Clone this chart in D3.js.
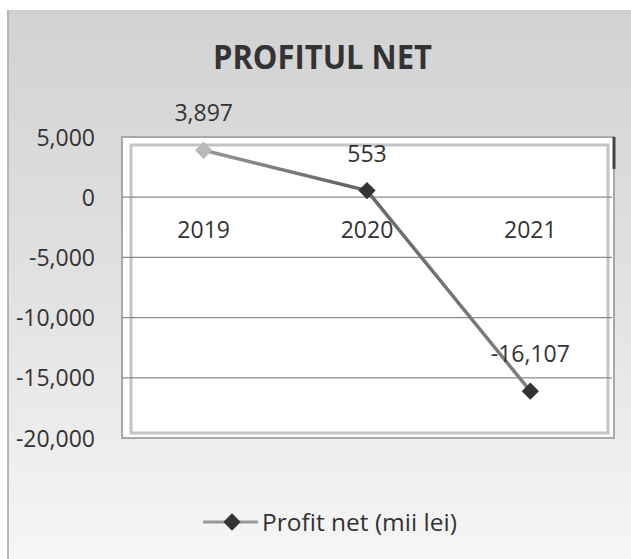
<!DOCTYPE html>
<html>
<head>
<meta charset="utf-8">
<script src="https://cdn.jsdelivr.net/npm/d3@7"></script>
<style>
  body { margin: 0; background: #fff; }
  text { font-family: "Open Sans", Lato, sans-serif; }
</style>
</head>
<body>
<script>
const ani = ["2019", "2020", "2021"];
const profit = [3897, 553, -16107];
const etichete = ["3,897", "553", "-16,107"];
const yTicks = [5000, 0, -5000, -10000, -15000, -20000];

const latime = 631, inaltime = 559;
const svg = d3.select("body").append("svg")
  .attr("width", latime).attr("height", inaltime);

const defs = svg.append("defs");
const fundal = defs.append("linearGradient").attr("id", "fundal")
  .attr("x1", 0).attr("y1", 0).attr("x2", 0).attr("y2", 1);
fundal.append("stop").attr("offset", "0%").attr("stop-color", "#d2d2d2");
fundal.append("stop").attr("offset", "55%").attr("stop-color", "#e3e3e3");
fundal.append("stop").attr("offset", "100%").attr("stop-color", "#f6f6f6");

// panoul graficului
svg.append("rect")
  .attr("x", 8).attr("y", 10).attr("width", latime - 8).attr("height", inaltime - 10)
  .attr("fill", "url(#fundal)");
svg.append("line")
  .attr("x1", 8).attr("x2", 8).attr("y1", 10).attr("y2", inaltime)
  .attr("stroke", "#b5b5b5").attr("stroke-width", 2);

// titlu
svg.append("text")
  .attr("x", 213).attr("y", 69)
  .attr("textLength", 219).attr("lengthAdjust", "spacingAndGlyphs")
  .style("font-size", "34px").style("font-weight", "bold")
  .attr("fill", "#333")
  .text("PROFITUL NET");

const stanga = 122, dreapta = 612, sus = 137, jos = 438;

const x = d3.scaleBand().domain(ani).range([stanga, dreapta]);
const y = d3.scaleLinear().domain([-20000, 5000]).range([jos, sus]);

// zona de plotare (rama cu relief)
svg.append("rect")
  .attr("x", stanga).attr("y", sus)
  .attr("width", dreapta - stanga + 2).attr("height", jos - sus)
  .attr("fill", "#fff")
  .attr("stroke", "#a8a8a8").attr("stroke-width", 2);
svg.append("rect")
  .attr("x", stanga + 9).attr("y", sus + 8)
  .attr("width", dreapta - stanga - 13).attr("height", jos - sus - 13)
  .attr("fill", "none")
  .attr("stroke", "#c4c4c4").attr("stroke-width", 3);
svg.append("line")
  .attr("x1", dreapta + 2).attr("x2", dreapta + 2)
  .attr("y1", sus).attr("y2", sus + 32)
  .attr("stroke", "#444").attr("stroke-width", 3);

// linii de grila
svg.append("g").selectAll("line")
  .data(yTicks.slice(1, -1))
  .join("line")
  .attr("x1", stanga).attr("x2", dreapta)
  .attr("y1", d => y(d)).attr("y2", d => y(d))
  .attr("stroke", "#8a8a8a").attr("stroke-width", 1.2);

// axa Y
const axaY = svg.append("g")
  .attr("transform", "translate(98,0)")
  .call(d3.axisLeft(y).tickValues(yTicks).tickSize(0)
    .tickFormat(d => d3.format(",")(d).replace("\u2212", "-")));
axaY.select(".domain").remove();
axaY.selectAll("text")
  .style("font-size", "23px")
  .attr("fill", "#333")
  .attr("dy", "0.35em");

// etichete categorii (langa axa zero)
svg.append("g").selectAll("text")
  .data(ani)
  .join("text")
  .attr("x", d => x(d) + x.bandwidth() / 2)
  .attr("y", y(0) + 41)
  .attr("text-anchor", "middle")
  .style("font-size", "23px")
  .attr("fill", "#333")
  .text(d => d);

// linia
const puncte = ani.map((a, i) => ({ an: a, v: profit[i], et: etichete[i] }));
const linie = d3.line()
  .x(d => x(d.an) + x.bandwidth() / 2)
  .y(d => y(d.v));

const grad = defs.append("linearGradient").attr("id", "linieGrad")
  .attr("gradientUnits", "userSpaceOnUse")
  .attr("x1", x("2019")).attr("y1", 0).attr("x2", x("2021") + x.bandwidth()).attr("y2", 0);
grad.append("stop").attr("offset", "0%").attr("stop-color", "#b4b4b4");
grad.append("stop").attr("offset", "45%").attr("stop-color", "#666");
grad.append("stop").attr("offset", "100%").attr("stop-color", "#8a8a8a");

svg.append("path")
  .datum(puncte)
  .attr("d", linie)
  .attr("fill", "none")
  .attr("stroke", "url(#linieGrad)")
  .attr("stroke-width", 3.5);

const romb = d3.symbol().type(d3.symbolDiamond2).size(190);
svg.append("g").selectAll("path")
  .data(puncte)
  .join("path")
  .attr("transform", d => `translate(${x(d.an) + x.bandwidth() / 2},${y(d.v)})`)
  .attr("d", romb)
  .attr("fill", (d, i) => i === 0 ? "#b8b8b8" : "#333");

// etichete de date
svg.append("g").selectAll("text")
  .data(puncte)
  .join("text")
  .attr("x", d => x(d.an) + x.bandwidth() / 2)
  .attr("y", d => y(d.v) - 29)
  .attr("text-anchor", "middle")
  .style("font-size", "23px")
  .attr("fill", "#333")
  .text(d => d.et);

// legenda
const leg = svg.append("g").attr("transform", "translate(203,522)");
leg.append("line").attr("x1", 0).attr("x2", 55)
  .attr("stroke", "#999").attr("stroke-width", 3);
leg.append("path").attr("transform", "translate(29,0)")
  .attr("d", romb).attr("fill", "#333");
leg.append("text").attr("x", 59).attr("y", 0).attr("dy", "0.35em")
  .style("font-size", "24.5px").attr("fill", "#333")
  .text("Profit net (mii lei)");
</script>
</body>
</html>
